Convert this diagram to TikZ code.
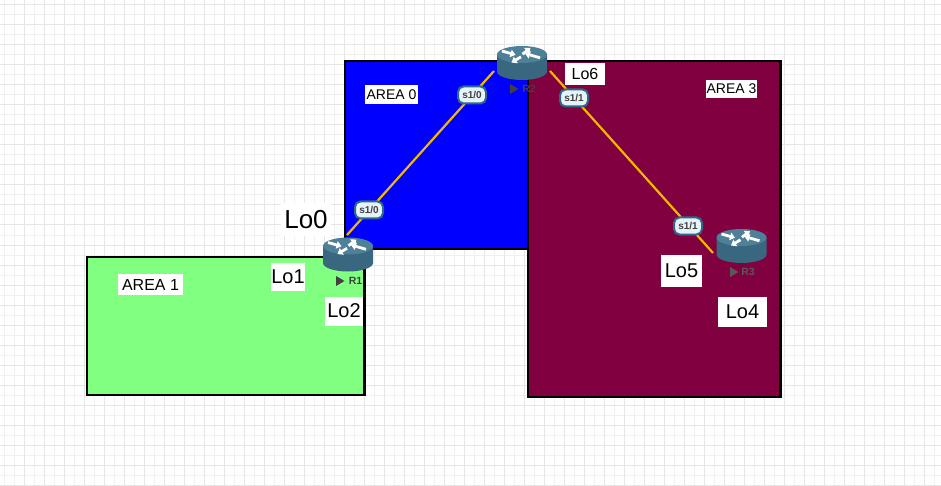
\documentclass[tikz,border=0pt]{standalone}
\usepackage{fontspec}
\setmainfont{Liberation Sans}
\usetikzlibrary{arrows.meta}
\definecolor{gridminor}{HTML}{F0F0F0}
\definecolor{gridmajor}{HTML}{E6E6E6}
\definecolor{areablue}{HTML}{0000FF}
\definecolor{areagreen}{HTML}{80FF80}
\definecolor{areapurple}{HTML}{800040}
\definecolor{linkgold}{HTML}{F5B800}
\definecolor{rtop}{HTML}{4E8098}
\definecolor{rside}{HTML}{38677F}
\definecolor{pillfill}{HTML}{E6F3FA}
\definecolor{pilledge}{HTML}{2F6A85}
\tikzset{
  area/.style={draw=black,line width=2.4pt},
  link/.style={draw=linkgold,line width=2.2pt},
  pill/.style={draw=pilledge,fill=pillfill,line width=2pt,rounded corners=5.5pt,minimum width=28pt,minimum height=17pt,inner sep=0pt,font=\fontsize{10}{10}\selectfont\bfseries,text=black!75},
  lab/.style={fill=white,inner sep=0pt,text=black,align=center},
  arealab/.style={lab,font=\fontsize{14}{16}\selectfont},
  rnode/.style={inner sep=0pt,minimum width=50pt,minimum height=34pt},
  rname/.style={inner sep=0pt,font=\fontsize{10.5}{11}\selectfont\bfseries},
  rarrow/.style={draw=white,line width=2.8pt,-{Triangle[width=7.5pt,length=5pt]}}
}
\newcommand{\routerart}[1]{%
  \begin{scope}[shift={(#1.center)}]
    \fill[rside] (-25,-8.5) -- (-25,8.5) arc[start angle=180,end angle=0,x radius=25,y radius=8.5] -- (25,-8.5) -- cycle;
    \fill[rtop] (0,-8.5) ellipse [x radius=25,y radius=8.5];
    \draw[rarrow] (-20,-12) -- (-6.5,-8.2);
    \draw[rarrow] (0.5,-8.8) -- (8.5,-15);
    \draw[rarrow] (18,-5.2) -- (3,-9.5);
    \draw[rarrow] (-1,-6.2) -- (-10.5,-0.5);
  \end{scope}}
\begin{document}
\begin{tikzpicture}[x=1pt,y=-1pt]
\useasboundingbox (0,0) rectangle (941,486);
\fill[white] (0,0) rectangle (941,486);
% background grid
\foreach \gx in {4,14,...,934} \draw[gridminor,line width=1pt] (\gx,0) -- (\gx,486);
\foreach \gy in {5,15,...,485} \draw[gridminor,line width=1pt] (0,\gy) -- (941,\gy);
\foreach \gx in {24,44,...,934} \draw[gridmajor,line width=1pt] (\gx,0) -- (\gx,486);
\foreach \gy in {5,25,...,485} \draw[gridmajor,line width=1pt] (0,\gy) -- (941,\gy);
% areas
\draw[area,fill=areablue] (345,61) rectangle (530,249);
\draw[area,fill=areagreen] (87,257) rectangle (364.5,395);
\draw[area,fill=areapurple] (528,61) rectangle (780.5,397);
% area labels
\node[arealab,minimum width=53pt,minimum height=19pt] (a0) at (391.5,94.5) {AREA 0};
\node[arealab,font=\fontsize{16}{18}\selectfont,minimum width=65pt,minimum height=21pt] (a1) at (150.5,284.5) {AREA 1};
\node[arealab,minimum width=51pt,minimum height=18pt] (a3) at (731.5,89) {AREA 3};
% routers
\node[rnode] (r1) at (348,254.5) {};
\node[rnode] (r2) at (522,63) {};
\node[rnode] (r3) at (741.5,246) {};
\coordinate (r1p) at (347,235);
\coordinate (r2pa) at (494,71);
\coordinate (r2pb) at (550,71);
\coordinate (r3p) at (713,253);
% links
\draw[link] (r1p) -- (r2pa);
\draw[link] (r2pb) -- (r3p);
\routerart{r1}
\routerart{r2}
\routerart{r3}
% port pills
\node[pill] (p1) at (369,210) {s1/0};
\node[pill] (p2) at (472,95) {s1/0};
\node[pill] (p3) at (574,98) {s1/1};
\node[pill] (p4) at (688,226) {s1/1};
% router names
\fill[black!75] (336,276) -- (344.5,281) -- (336,286) -- cycle;
\node[rname,text=black!75] (n1) at (355.5,281) {R1};
\fill[black!75] (510,84) -- (518.5,89) -- (510,94) -- cycle;
\node[rname,text=black!75] (n2) at (529,89) {R2};
\fill[black!65] (730,267) -- (738.5,272) -- (730,277) -- cycle;
\node[rname,text=black!65] (n3) at (748,272) {R3};
% loopback labels
\node[lab,font=\fontsize{26}{28}\selectfont,minimum width=50pt,minimum height=32pt] (l0) at (306,219.5) {Lo0};
\node[lab,font=\fontsize{20}{22}\selectfont,minimum width=34pt,minimum height=28pt] (l1) at (288,276.5) {\raisebox{-0.8pt}{Lo1}};
\node[lab,font=\fontsize{20}{22}\selectfont,minimum width=38pt,minimum height=29pt] (l2) at (344,311) {Lo2};
\node[lab,font=\fontsize{16}{18}\selectfont,minimum width=40pt,minimum height=22pt] (l6) at (585,74) {Lo6};
\node[lab,font=\fontsize{20}{22}\selectfont,minimum width=41pt,minimum height=32pt] (l5) at (681.5,271) {\raisebox{-0.8pt}{Lo5}};
\node[lab,font=\fontsize{20}{22}\selectfont,minimum width=49pt,minimum height=30pt] (l4) at (742.5,312) {\raisebox{-1.5pt}{Lo4}};
\end{tikzpicture}
\end{document}
